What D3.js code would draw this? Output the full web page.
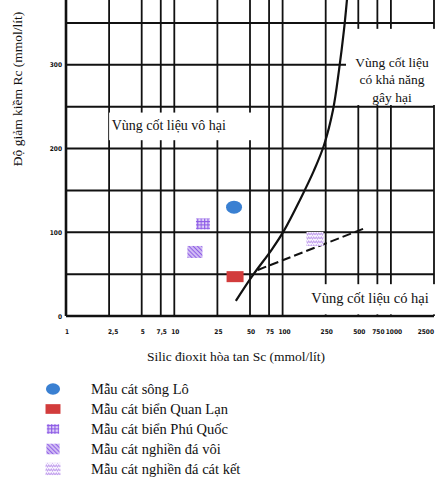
<!DOCTYPE html>
<html>
<head>
<meta charset="utf-8">
<script src="https://cdn.jsdelivr.net/npm/d3@7"></script>
<style>
  html, body { margin: 0; padding: 0; background: #fff; }
  svg { display: block; }
  .serif { font-family: "Liberation Serif", "Times New Roman", serif; fill: #111; }
  .tick { font-family: "DejaVu Sans Condensed", "Liberation Sans", sans-serif; font-size: 6.5px; font-weight: bold; fill: #111; }
</style>
</head>
<body>
<svg id="chart" width="435" height="485"></svg>
<script>
// Axis ticks (log scale for dissolved silica, linear for alkalinity reduction)
const xTicks = [1, 2.5, 5, 7.5, 10, 25, 50, 75, 100, 250, 500, 750, 1000, 2500];
const xTickLabels = ["1", "2,5", "5", "7,5", "10", "25", "50", "75", "100", "250", "500", "750", "1000", "2500"];
const yGrid = [0, 50, 100, 150, 200, 250, 300, 350];
const yTickValues = [0, 100, 200, 300];
const yTickLabels = ["0", "100", "200", "300"];

// Boundary curve between innocuous and deleterious zones (Sc, Rc)
const curveSc = [37, 52, 80, 103, 145, 195, 241, 292, 332, 369, 393];
const curveRc = [18, 47, 80, 102, 139, 174, 204, 246, 294, 342, 378];

// Dashed boundary line (Sc, Rc)
const dashSc = [59, 577];
const dashRc = [55, 105];

// Sand samples
const sampleNames = [
  "Mẫu cát sông Lô",
  "Mẫu cát biển Quan Lạn",
  "Mẫu cát biển Phú Quốc",
  "Mẫu cát nghiền đá vôi",
  "Mẫu cát nghiền đá cát kết"
];
const sampleSc = [35.6, 36.4, 18.4, 15.5, 199];
const sampleRc = [130, 47, 110, 76.5, 92];

// Zone labels
const zoneLines = [["Vùng cốt liệu vô hại"], ["Vùng cốt liệu", "có khả năng", "gây hại"], ["Vùng cốt liệu có hại"]];
const zoneSc = [8.9, 1024, 641];
const zoneRc = [227, 303, 21.5];
const zoneSize = [14, 13.5, 14.5];

const svg = d3.select("#chart");

const x = d3.scaleLog().domain([1, 2500]).range([66, 434]);
const y = d3.scaleLinear().domain([0, 350]).range([316, 23]);
const yTop = 380;

// Fill patterns for the sample symbols
const defs = svg.append("defs");
const pGrid = defs.append("pattern").attr("id", "pGrid").attr("patternUnits", "userSpaceOnUse")
  .attr("width", 3.4).attr("height", 3.4);
pGrid.append("rect").attr("width", 3.4).attr("height", 3.4).attr("fill", "#e2d4f8");
pGrid.append("path").attr("d", "M0,0.6H3.4M0.6,0V3.4").attr("stroke", "#8c5ae6").attr("stroke-width", 1.1);

const pHatch = defs.append("pattern").attr("id", "pHatch").attr("patternUnits", "userSpaceOnUse")
  .attr("width", 3).attr("height", 3).attr("patternTransform", "rotate(45)");
pHatch.append("rect").attr("width", 3).attr("height", 3).attr("fill", "#dccbf6");
pHatch.append("path").attr("d", "M0,1.5H3").attr("stroke", "#9060e6").attr("stroke-width", 1.3);

const pWave = defs.append("pattern").attr("id", "pWave").attr("patternUnits", "userSpaceOnUse")
  .attr("width", 5).attr("height", 4);
pWave.append("rect").attr("width", 5).attr("height", 4).attr("fill", "#fbf8ff");
pWave.append("path").attr("d", "M0,3 L1.25,1 L2.5,3 L3.75,1 L5,3").attr("fill", "none")
  .attr("stroke", "#c4a3ee").attr("stroke-width", 1.1);

// Grid
const grid = svg.append("g").attr("stroke", "#111").attr("fill", "none");
grid.selectAll("line.h").data(yGrid).join("line")
  .attr("x1", x(1)).attr("x2", x(2500))
  .attr("y1", d => y(d)).attr("y2", d => y(d))
  .attr("stroke-width", d => d === 0 ? 2.6 : 2);
grid.selectAll("line.v").data(xTicks).join("line")
  .attr("x1", d => x(d)).attr("x2", d => x(d))
  .attr("y1", y(0)).attr("y2", y(yTop))
  .attr("stroke-width", d => d === 1 ? 2.6 : 1.8);

// White panels behind the zone labels
const panels = [
  { sc: [2.5, 66], rc: [210, 243] },
  { sc: [385, 2600], rc: [252, 343] },
  { sc: [145, 2600], rc: [2, 38] }
];
svg.append("g").selectAll("rect").data(panels).join("rect")
  .attr("x", d => x(d.sc[0])).attr("width", d => x(d.sc[1]) - x(d.sc[0]))
  .attr("y", d => y(d.rc[1])).attr("height", d => y(d.rc[0]) - y(d.rc[1]))
  .attr("fill", "#fff");

// Boundary curve
const curvePts = curveSc.map((s, i) => [s, curveRc[i]]);
svg.append("path")
  .attr("d", d3.line().x(d => x(d[0])).y(d => y(d[1])).curve(d3.curveCatmullRom)(curvePts))
  .attr("fill", "none").attr("stroke", "#111").attr("stroke-width", 2.2);

// Dashed line
svg.append("path")
  .attr("d", d3.line().x(d => x(d[0])).y(d => y(d[1]))(dashSc.map((s, i) => [s, dashRc[i]])))
  .attr("fill", "none").attr("stroke", "#111").attr("stroke-width", 2)
  .attr("stroke-dasharray", "9,4");

// Tick labels
const xNudge = { 2.5: 4, 100: 2, 1000: 3 };
svg.append("g").selectAll("text").data(xTicks).join("text")
  .attr("class", "tick")
  .attr("x", d => d === 2500 ? 434 : x(d) + (xNudge[d] || 1))
  .attr("y", 334)
  .attr("text-anchor", d => d === 2500 ? "end" : "middle")
  .text((d, i) => xTickLabels[i]);
svg.append("g").selectAll("text").data(yTickValues).join("text")
  .attr("class", "tick")
  .attr("x", 62)
  .attr("y", d => y(d) + 2.5)
  .attr("text-anchor", "end")
  .text((d, i) => yTickLabels[i]);

// Axis titles
svg.append("text").attr("class", "serif")
  .attr("transform", "translate(22,89) rotate(-90)")
  .attr("text-anchor", "middle").attr("font-size", 13.5)
  .text("Độ giảm kiềm Rc (mmol/lít)");
svg.append("text").attr("class", "serif")
  .attr("x", 236).attr("y", 361)
  .attr("text-anchor", "middle").attr("font-size", 13.5)
  .text("Silic đioxit hòa tan Sc (mmol/lít)");

// Zone labels
zoneLines.forEach((lines, i) => {
  const t = svg.append("text").attr("class", "serif")
    .attr("text-anchor", "middle").attr("font-size", zoneSize[i])
    .attr("x", x(zoneSc[i])).attr("y", y(zoneRc[i]) + 4.5);
  lines.forEach((ln, j) => {
    t.append("tspan").attr("x", x(zoneSc[i])).attr("dy", j === 0 ? 0 : 17.5).text(ln);
  });
});

// Symbol drawing shared by chart and legend
function drawSymbol(g, k, cx, cy, scale) {
  const s = scale || 1;
  if (k === 0) {
    g.append("ellipse").attr("cx", cx).attr("cy", cy).attr("rx", 8 * s).attr("ry", 6.5 * s).attr("fill", "#3a80d2");
  } else if (k === 1) {
    g.append("rect").attr("x", cx - 8.5 * s).attr("y", cy - 5.5 * s).attr("width", 17 * s).attr("height", 11 * s).attr("fill", "#d23c3c");
  } else if (k === 2) {
    g.append("rect").attr("x", cx - 7 * s).attr("y", cy - 5.5 * s).attr("width", 14 * s).attr("height", 11 * s).attr("fill", "url(#pGrid)");
  } else if (k === 3) {
    g.append("rect").attr("x", cx - 7.5 * s).attr("y", cy - 6 * s).attr("width", 15 * s).attr("height", 12 * s).attr("fill", "url(#pHatch)");
  } else {
    g.append("rect").attr("x", cx - 8.5 * s).attr("y", cy - 7 * s).attr("width", 17 * s).attr("height", 14 * s).attr("fill", "url(#pWave)");
  }
}

const marks = svg.append("g");
sampleNames.forEach((n, i) => drawSymbol(marks, i, x(sampleSc[i]), y(sampleRc[i]), 1));

// Legend
const legend = svg.append("g");
sampleNames.forEach((n, i) => {
  const cy = 389 + i * 20;
  drawSymbol(legend, i, 53, cy, 0.88);
  legend.append("text").attr("class", "serif")
    .attr("x", 91).attr("y", cy + 5).attr("font-size", 14.5)
    .text(n);
});
</script>
</body>
</html>
